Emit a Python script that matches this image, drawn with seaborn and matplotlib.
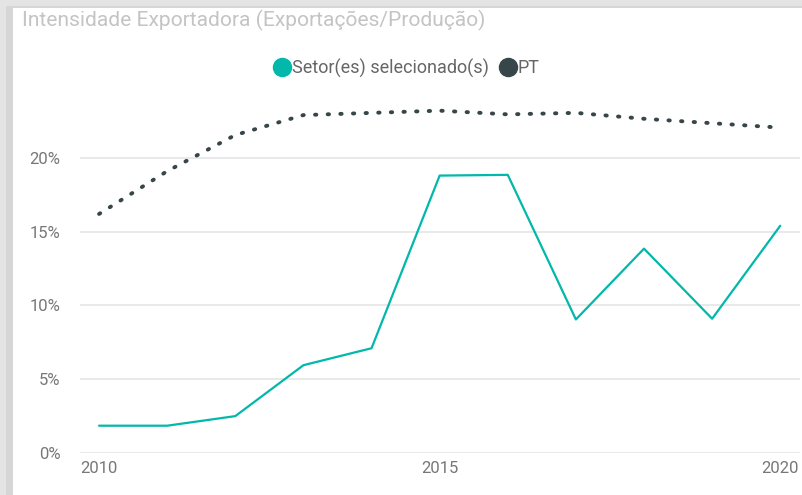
import numpy as np
import pandas as pd
import matplotlib
matplotlib.use("Agg")
import matplotlib.pyplot as plt
from matplotlib.lines import Line2D
from matplotlib.patches import Rectangle
from matplotlib.ticker import FuncFormatter
import seaborn as sns

# dados
anos = [2010, 2011, 2012, 2013, 2014, 2015, 2016, 2017, 2018, 2019, 2020]
setor = [1.85, 1.85, 2.5, 5.95, 7.1, 18.8, 18.85, 9.05, 13.85, 9.1, 15.4]
pt = [16.2, 19.1, 21.55, 22.9, 23.05, 23.2, 22.95, 23.05, 22.65, 22.35, 22.05]

titulo = "Intensidade Exportadora (Exportações/Produção)"
nome_setor = "Setor(es) selecionado(s)"
nome_pt = "PT"

cor_setor = "#01B8AA"
cor_pt = "#374649"

sns.set_theme(style="white")
plt.rcParams['font.family'] = ['Roboto', 'DejaVu Sans']

df = pd.DataFrame({'ano': anos, 'setor': setor, 'pt': pt})

W, H = 803, 495
fig = plt.figure(figsize=(W / 100, H / 100), dpi=100)
fig.patch.set_facecolor("#e4e4e4")
# sombra do visual (Power BI)
fig.patches.append(Rectangle((6 / W, 0), 1, 1 - 6 / H, transform=fig.transFigure,
                             facecolor="#d6d6d6", edgecolor="none", zorder=-3))
fig.patches.append(Rectangle((13 / W, 0), 1, 1 - 8 / H, transform=fig.transFigure,
                             facecolor="white", edgecolor="none", zorder=-2))

ax = fig.add_axes([80 / W, 42 / H, 720 / W, 363 / H])
ax.set_facecolor("none")

sns.lineplot(data=df, x='ano', y='pt', ax=ax, color=cor_pt, linewidth=2.8,
             linestyle=(0, (0.35, 2.9)), dash_capstyle='round')
sns.lineplot(data=df, x='ano', y='setor', ax=ax, color=cor_setor, linewidth=1.6)

ax.set_xlim(2009.72, 2020.29)
ax.set_ylim(0, 24.6)
ax.set_yticks([0, 5, 10, 15, 20])
ax.set_xticks([2010, 2015, 2020])
ax.yaxis.set_major_formatter(FuncFormatter(lambda v, p: f"{v:.0f}%"))
ax.grid(axis='y', color="#e9e9e9", linewidth=1.4)
ax.set_axisbelow(True)
for s in ax.spines.values():
    s.set_visible(False)
ax.set_xlabel("")
ax.set_ylabel("")
ax.tick_params(axis='both', length=0, labelsize=12, labelcolor="#777777")
ax.tick_params(axis='y', pad=14)
ax.tick_params(axis='x', pad=6)

fig.text(22 / W, 1 - 20 / H, titulo, fontsize=15.1, color="#c4c4c4",
         ha='left', va='center')

handles = [Line2D([], [], marker='o', linestyle='none', markersize=13,
                  markerfacecolor=cor_setor, markeredgecolor=cor_setor),
           Line2D([], [], marker='o', linestyle='none', markersize=13,
                  markerfacecolor=cor_pt, markeredgecolor=cor_pt)]
leg = fig.legend(handles, [nome_setor, nome_pt], loc='center',
                 bbox_to_anchor=(406 / W, 1 - 68 / H), ncol=2, frameon=False,
                 fontsize=13, handletextpad=0.0, columnspacing=0.5,
                 handlelength=1.1)
for t in leg.get_texts():
    t.set_color("#666666")

fig.savefig("out.png", dpi=100)
